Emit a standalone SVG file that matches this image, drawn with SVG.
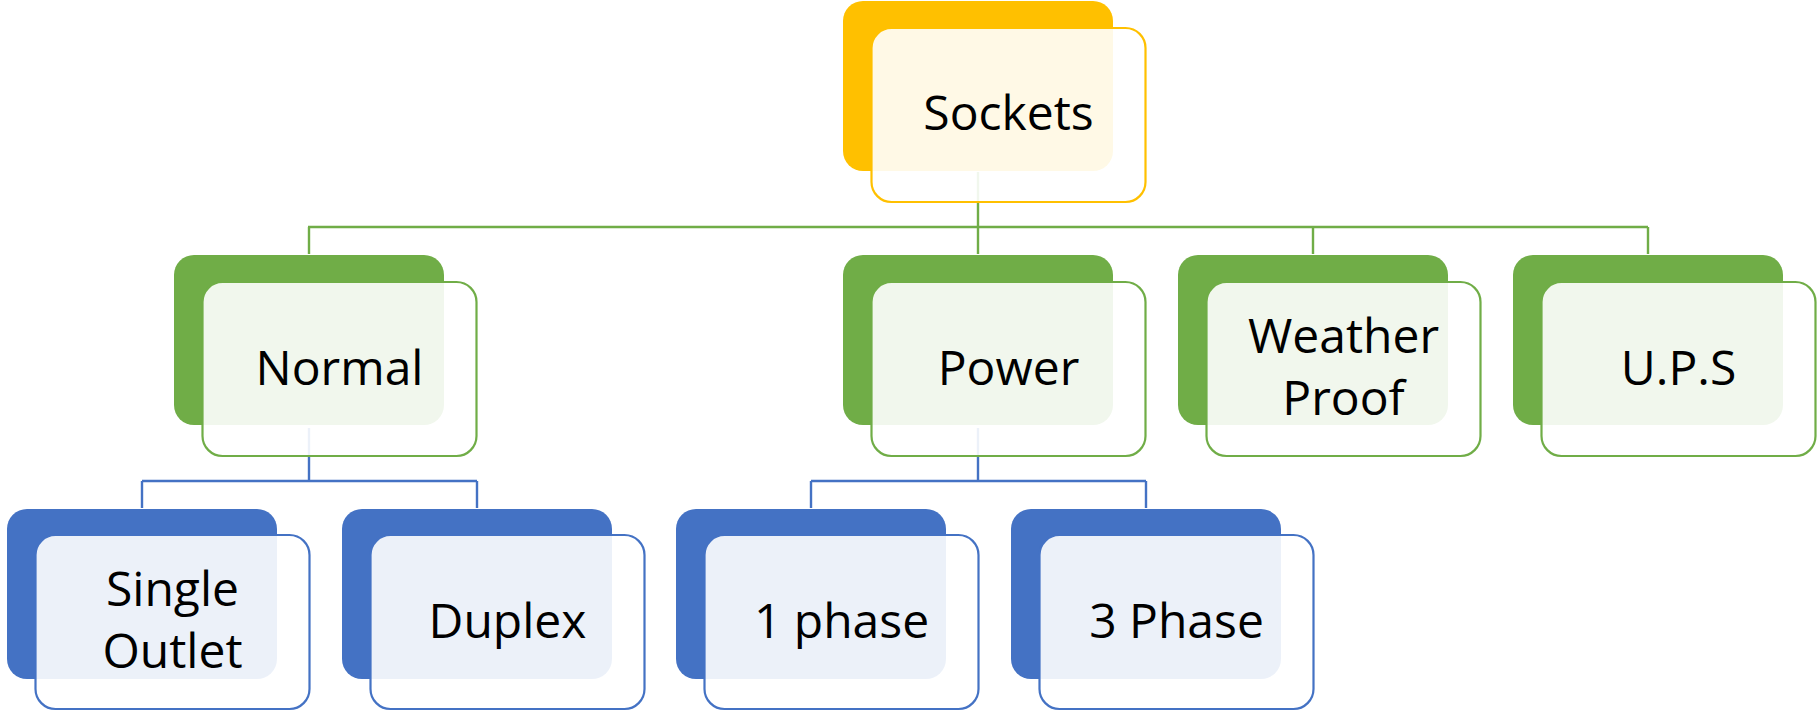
<svg xmlns="http://www.w3.org/2000/svg" width="1819" height="714" viewBox="0 0 1819 714">
  <style>
    .back { stroke: none; }
    .front { fill: #ffffff; fill-opacity: 0.9; stroke-width: 2.2; }
    .y .back { fill: #FFC000; } .y .front { stroke: #FFC000; }
    .g .back { fill: #70AD47; } .g .front { stroke: #70AD47; }
    .b .back { fill: #4472C4; } .b .front { stroke: #4472C4; }
    .lbl { font-family: "Open Sans", "Liberation Sans", sans-serif; font-size: 48px; fill: #000000; text-anchor: middle; }
    .wire { fill: none; stroke-width: 2.4; }
    .wg { stroke: #70AD47; }
    .wb { stroke: #4472C4; }
  </style>
  <rect width="1819" height="714" fill="#ffffff"/>

  <!-- connectors (drawn first so the translucent front panels soften them) -->
  <g id="connectors">
    <path class="wire wg" d="M978 172 V227 M308 227 H1648 M309 227 V254 M978 227 V254 M1313 227 V254 M1648 227 V254"/>
    <path class="wire wb" d="M309 428 V481 M142 481 H477 M142 481 V508 M477 481 V508"/>
    <path class="wire wb" d="M978 428 V481 M811 481 H1146 M811 481 V508 M1146 481 V508"/>
  </g>

  <!-- level 1 -->
  <g id="sockets" class="y">
    <rect class="back" x="843" y="1" width="270" height="170" rx="20"/>
    <rect class="front" x="871.5" y="28" width="274" height="174" rx="20"/>
    <text class="lbl" x="1008.5" y="130">Sockets</text>
  </g>

  <!-- level 2 -->
  <g id="normal" class="g">
    <rect class="back" x="174" y="255" width="270" height="170" rx="20"/>
    <rect class="front" x="202.5" y="282" width="274" height="174" rx="20"/>
    <text class="lbl" x="339.5" y="385">Normal</text>
  </g>
  <g id="power" class="g">
    <rect class="back" x="843" y="255" width="270" height="170" rx="20"/>
    <rect class="front" x="871.5" y="282" width="274" height="174" rx="20"/>
    <text class="lbl" x="1008.5" y="385">Power</text>
  </g>
  <g id="weather-proof" class="g">
    <rect class="back" x="1178" y="255" width="270" height="170" rx="20"/>
    <rect class="front" x="1206.5" y="282" width="274" height="174" rx="20"/>
    <text class="lbl" x="1343.5" y="353">Weather</text>
    <text class="lbl" x="1343.5" y="415">Proof</text>
  </g>
  <g id="ups" class="g">
    <rect class="back" x="1513" y="255" width="270" height="170" rx="20"/>
    <rect class="front" x="1541.5" y="282" width="274" height="174" rx="20"/>
    <text class="lbl" x="1678.5" y="385">U.P.S</text>
  </g>

  <!-- level 3 -->
  <g id="single-outlet" class="b">
    <rect class="back" x="7" y="509" width="270" height="170" rx="20"/>
    <rect class="front" x="35.5" y="535" width="274" height="174" rx="20"/>
    <text class="lbl" x="172.5" y="606">Single</text>
    <text class="lbl" x="172.5" y="668">Outlet</text>
  </g>
  <g id="duplex" class="b">
    <rect class="back" x="342" y="509" width="270" height="170" rx="20"/>
    <rect class="front" x="370.5" y="535" width="274" height="174" rx="20"/>
    <text class="lbl" x="507.5" y="638">Duplex</text>
  </g>
  <g id="one-phase" class="b">
    <rect class="back" x="676" y="509" width="270" height="170" rx="20"/>
    <rect class="front" x="704.5" y="535" width="274" height="174" rx="20"/>
    <text class="lbl" x="841.5" y="638">1 phase</text>
  </g>
  <g id="three-phase" class="b">
    <rect class="back" x="1011" y="509" width="270" height="170" rx="20"/>
    <rect class="front" x="1039.5" y="535" width="274" height="174" rx="20"/>
    <text class="lbl" x="1176.5" y="638">3 Phase</text>
  </g>
</svg>
